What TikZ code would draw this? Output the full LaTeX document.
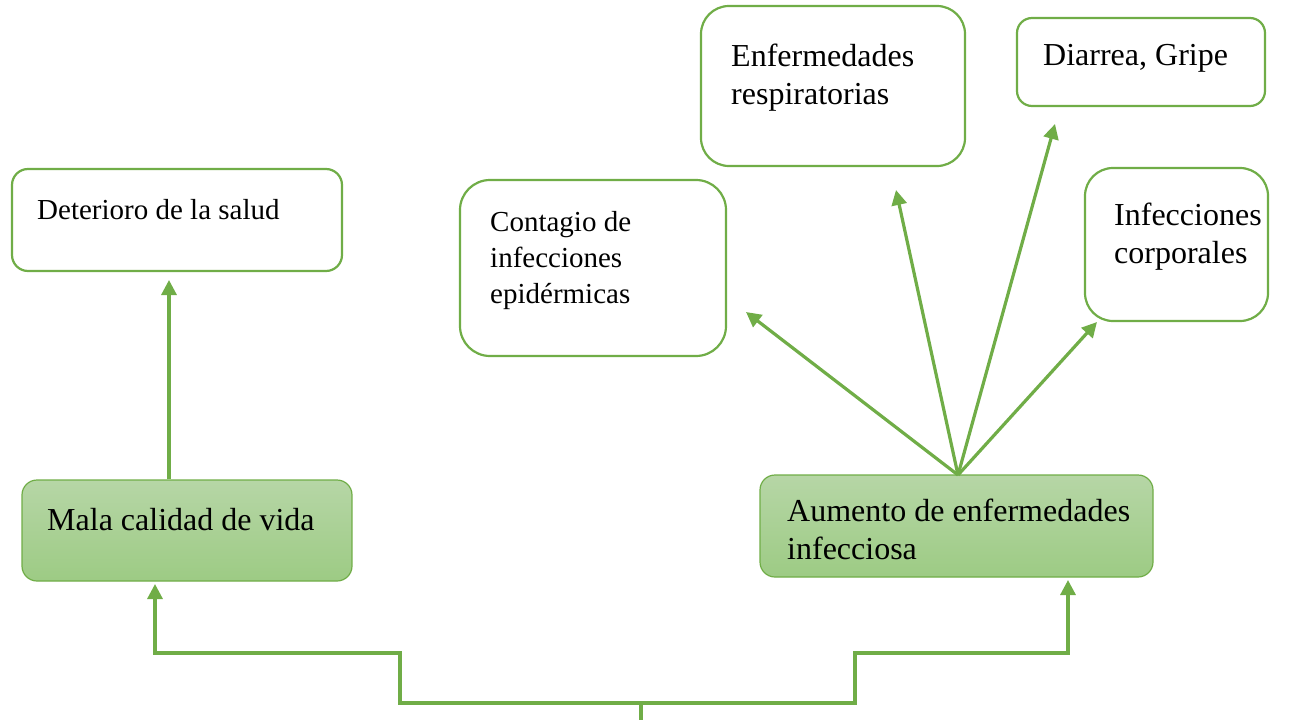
\documentclass[tikz,border=0pt]{standalone}
\usepackage{fontspec}
\setmainfont{Liberation Serif}
\usetikzlibrary{arrows.meta,calc}
\definecolor{lgreen}{HTML}{70AD47}
\definecolor{ftop}{RGB}{182,214,166}
\definecolor{fbot}{RGB}{157,203,132}
\tikzset{
  wbox/.style={draw=lgreen, line width=2.2pt, fill=white, rectangle, inner sep=0pt},
  gbox/.style={draw=lgreen, line width=1.2pt, rectangle, inner sep=0pt, top color=ftop, bottom color=fbot},
  txtA/.style={inner sep=0pt, anchor=base west, align=left, font=\fontsize{29}{36}\selectfont},
  txtB/.style={inner sep=0pt, anchor=base west, align=left, font=\fontsize{32}{38}\selectfont},
  conn/.style={draw=lgreen, line width=3.2pt},
  arr/.style={conn, -{Triangle[length=15pt,width=15pt]}},
}
\begin{document}
\begin{tikzpicture}[x=1pt,y=-1pt]
\useasboundingbox (0,0) rectangle (1304,720);
% boxes
\node[wbox, minimum width=330pt, minimum height=102pt, rounded corners=16pt] (det) at (177,220) {};
\node[gbox, minimum width=330pt, minimum height=101pt, rounded corners=15pt] (mala) at (187,530.5) {};
\node[wbox, minimum width=266pt, minimum height=176pt, rounded corners=30pt] (cont) at (593,268) {};
\node[wbox, minimum width=264pt, minimum height=160pt, rounded corners=28pt] (resp) at (833,86) {};
\node[wbox, minimum width=248pt, minimum height=88pt, rounded corners=15pt] (diar) at (1141,62) {};
\node[wbox, minimum width=183pt, minimum height=153pt, rounded corners=28pt] (infc) at (1176.5,244.5) {};
\node[gbox, minimum width=393pt, minimum height=102pt, rounded corners=15pt] (aum) at (956.5,526) {};
% texts (multi-line nodes: base = last line)
\node[txtA] (detT) at (37,219) {Deterioro de la salud};
\node[txtB] (malaT) at (47,530) {Mala calidad de vida};
\node[txtA] (contT) at (490,303) {Contagio de\\infecciones\\epidérmicas};
\node[txtB] (respT) at (731,104) {Enfermedades\\respiratorias};
\node[txtB] (diarT) at (1043,65) {Diarrea, Gripe};
\node[txtB] (infcT) at (1114,263) {Infecciones\\corporales};
\node[txtB] (aumT) at (787,559) {Aumento de enfermedades\\infecciosa};
% connector coordinates
\coordinate (tipD) at (169,280);
\coordinate (fan) at (958,475);
\coordinate (tipC) at (746,312);
\coordinate (tipR) at (896,190);
\coordinate (tipG) at (1055,124);
\coordinate (tipI) at (1097,322);
\coordinate (root) at (641,720);
\coordinate (jn) at (641,703);
\coordinate (tipM) at (155,584);
\coordinate (tipA) at (1068,580);
% connectors
\draw[arr] (mala.north -| tipD) -- (tipD);
\draw[arr] (fan) -- (tipC);
\draw[arr] (fan) -- (tipR);
\draw[arr] (fan) -- (tipG);
\draw[arr] (fan) -- (tipI);
\draw[conn] (root) -- (jn);
\draw[arr] (jn) -- (400,703) -- (400,653) -- (155,653) -- (tipM);
\draw[arr] (jn) -- (855,703) -- (855,653) -- (1068,653) -- (tipA);
\end{tikzpicture}
\end{document}
